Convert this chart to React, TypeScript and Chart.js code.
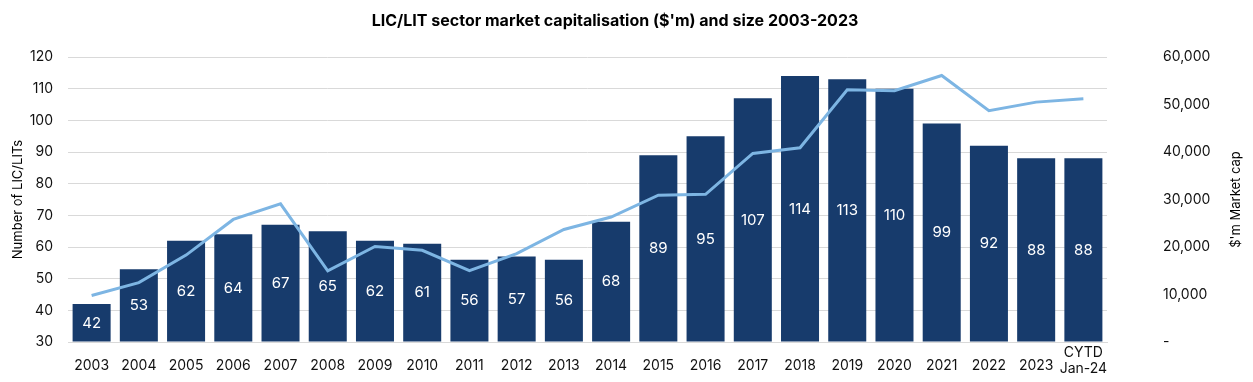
import React, { useEffect, useRef } from "react";
import { Chart, registerables } from "chart.js";

Chart.register(...registerables);

const categories: (string | string[])[] = [
  "2003", "2004", "2005", "2006", "2007", "2008", "2009", "2010", "2011", "2012",
  "2013", "2014", "2015", "2016", "2017", "2018", "2019", "2020", "2021", "2022",
  "2023", ["CYTD", "Jan-24"],
];
const licCount = [42, 53, 62, 64, 67, 65, 62, 61, 56, 57, 56, 68, 89, 95, 107, 114, 113, 110, 99, 92, 88, 88];
const marketCap = [
  9800, 12500, 18300, 25800, 29100, 15000, 20100, 19300, 15000, 18600,
  23700, 26300, 30900, 31100, 39700, 40900, 53100, 52900, 56100, 48700,
  50500, 51200,
];
const leftTicks = { min: 30, max: 120, step: 10 };
const rightTicks = { min: 0, max: 60000, step: 10000 };

const titleText = "LIC/LIT sector market capitalisation ($'m) and size 2003-2023";
const leftAxisTitle = "Number of LIC/LITs";
const rightAxisTitle = "$'m Market cap";

const FONT = "Inter, 'Noto Sans', sans-serif";
const BAR_COLOR = "#173b6c";
const LINE_COLOR = "#7db5e3";
const GRID_COLOR = "#d9d9d9";

const extrasPlugin = {
  id: "extras",
  afterDatasetsDraw(chart: any) {
    const ctx = chart.ctx;
    const meta = chart.getDatasetMeta(1);
    const area = chart.chartArea;
    ctx.save();
    ctx.fillStyle = "#ffffff";
    ctx.font = `15px ${FONT}`;
    ctx.textAlign = "center";
    ctx.textBaseline = "middle";
    meta.data.forEach((bar: any, i: number) => {
      const cy = (bar.y + area.bottom) / 2;
      ctx.fillText(String(licCount[i]), bar.x, cy);
    });
    ctx.restore();
  },
  afterDraw(chart: any) {
    const ctx = chart.ctx;
    const area = chart.chartArea;
    const xs = chart.scales.x;
    ctx.save();
    ctx.fillStyle = "#000000";
    ctx.font = `bold 16px ${FONT}`;
    ctx.textAlign = "center";
    ctx.textBaseline = "middle";
    ctx.fillText(titleText, 615, 21);

    // category labels
    ctx.fillStyle = "#111111";
    ctx.font = `14px ${FONT}`;
    categories.forEach((lab, i) => {
      const x = xs.getPixelForValue(i);
      if (Array.isArray(lab)) {
        ctx.fillText(lab[0], x, area.bottom + 11);
        ctx.fillText(lab[1], x, area.bottom + 26.5);
      } else {
        ctx.fillText(lab, x, area.bottom + 23.5);
      }
    });

    ctx.translate(1236, (area.top + area.bottom) / 2);
    ctx.rotate(-Math.PI / 2);
    ctx.fillStyle = "#000000";
    ctx.font = `13px ${FONT}`;
    ctx.fillText(rightAxisTitle, 0, 0);
    ctx.restore();
  },
};

export default function App() {
  const ref = useRef<HTMLCanvasElement | null>(null);
  useEffect(() => {
    if (!ref.current) return;
    const chart = new Chart(ref.current, {
      type: "bar",
      data: {
        labels: categories as any,
        datasets: [
          {
            type: "line",
            label: "Market cap",
            data: marketCap,
            yAxisID: "y1",
            borderColor: LINE_COLOR,
            backgroundColor: LINE_COLOR,
            borderWidth: 3,
            pointRadius: 0,
            tension: 0,
            order: 0,
          } as any,
          {
            type: "bar",
            label: "Number of LIC/LITs",
            data: licCount,
            yAxisID: "y",
            backgroundColor: BAR_COLOR,
            base: 30,
            categoryPercentage: 1,
            barPercentage: 0.805,
            order: 1,
          } as any,
        ],
      },
      options: {
        responsive: false,
        animation: false,
        layout: { padding: { top: 57, bottom: 0, left: 0, right: 0 } },
        plugins: {
          legend: { display: false },
          title: { display: false },
          tooltip: { enabled: false },
        },
        scales: {
          x: {
            grid: { display: false, drawTicks: false },
            border: { display: true, color: GRID_COLOR, width: 1 },
            ticks: { display: false, autoSkip: false, maxRotation: 0 },
            afterFit: (s: any) => { s.height = 40; s.paddingLeft = 0; s.paddingRight = 0; },
          },
          y: {
            position: "left",
            min: leftTicks.min,
            max: leftTicks.max,
            ticks: {
              stepSize: leftTicks.step,
              color: "#111",
              font: { family: FONT, size: 14 },
              padding: 15,
            },
            grid: { color: GRID_COLOR, drawTicks: false, lineWidth: 1 },
            border: { display: false },
            title: {
              display: true,
              text: leftAxisTitle,
              color: "#000",
              font: { family: FONT, size: 13 },
              padding: { top: 10.5, bottom: 0 },
            },
            afterFit: (s: any) => { s.width = 68; s.paddingTop = 8; s.paddingBottom = 8; },
          },
          y1: {
            position: "right",
            min: rightTicks.min,
            max: rightTicks.max,
            ticks: {
              stepSize: rightTicks.step,
              color: "#111",
              font: { family: FONT, size: 14 },
              padding: 56,
              callback: (v: any) => (Number(v) === 0 ? "-" : Number(v).toLocaleString("en-US")),
            },
            grid: { display: false, drawTicks: false },
            border: { display: false },
            afterFit: (s: any) => { s.width = 146; s.paddingTop = 8; s.paddingBottom = 8; },
          },
        },
      },
      plugins: [extrasPlugin],
    } as any);
    return () => chart.destroy();
  }, []);
  return (
    <div style={{ position: "absolute", left: 0, top: 0, width: 1253, height: 382, background: "#fff" }}>
      <canvas ref={ref} width={1253} height={382} style={{ display: "block" }} />
    </div>
  );
}
